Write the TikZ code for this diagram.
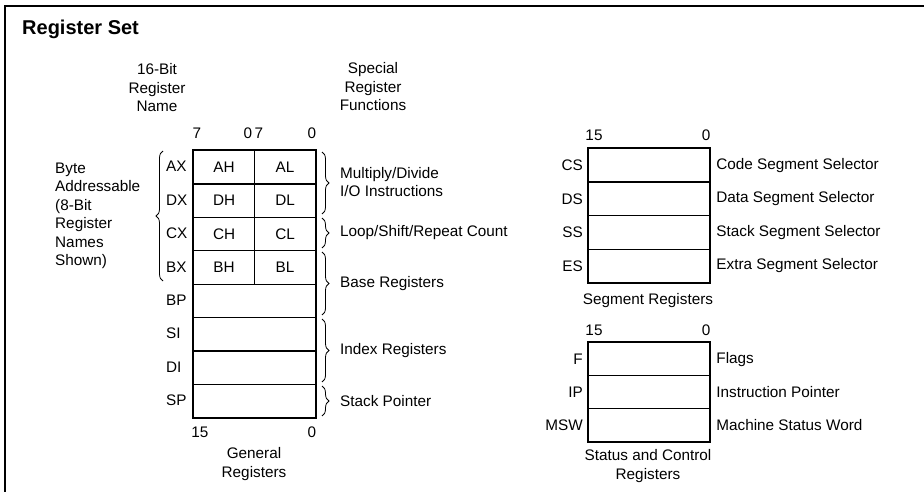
\documentclass[tikz,border=0pt]{standalone}
\usepackage{fontspec}
\setmainfont{Liberation Sans}
\usetikzlibrary{decorations.pathreplacing,calc}
\begin{document}
\begin{tikzpicture}[x=1pt,y=-1pt,
  lbl/.style={font=\fontsize{15.3}{18.5}\selectfont, inner sep=0pt},
  cell/.style={draw, line width=1.2pt, minimum height=#1, inner sep=0pt, anchor=north west, font=\fontsize{15.3}{18.5}\selectfont},
  half/.style={cell=33.4pt, minimum width=61pt},
  full/.style={cell=33.4pt, minimum width=122pt},
  seg/.style={cell=33.5pt, minimum width=121pt},
  stat/.style={cell=33pt, minimum width=121pt},
  frame/.style={draw, line width=2pt},
  brc/.style={draw, line width=0.8pt, decorate, decoration={brace, amplitude=7pt}},
  border/.style={line width=1.5pt}
]
\useasboundingbox (0,0) rectangle (924,492);
% outer frame (top and left only)
\coordinate (ftl) at (5,6);
\coordinate (ftr) at (924,6);
\coordinate (fbl) at (5,492);
\draw[border] (fbl) -- (ftl) -- (ftr);

\node[anchor=base west, inner sep=0pt, font=\fontsize{20}{22}\selectfont\bfseries] (title) at (22,35) {Register Set};

% headers
\node[lbl, align=center] (hname) at (157,88) {16-Bit\\Register\\Name};
\node[lbl, align=center] (hfunc) at (373,87) {Special\\Register\\Functions};

% general registers
\node[half] (AH) at (193,150) {AH};
\node[half] (AL) at (254,150) {AL};
\node[half] (DH) at (193,183.4) {DH};
\node[half] (DL) at (254,183.4) {DL};
\node[half] (CH) at (193,216.8) {CH};
\node[half] (CL) at (254,216.8) {CL};
\node[half] (BH) at (193,250.2) {BH};
\node[half] (BL) at (254,250.2) {BL};
\node[full] (BP) at (193,283.6) {};
\node[full] (SI) at (193,317) {};
\node[full] (DI) at (193,350.4) {};
\node[full] (SP) at (193,383.8) {};
\draw[frame] (AH.north west) rectangle (SP.south east);

% register names
\node[lbl, anchor=west] (nAX) at (166,166.7) {AX};
\node[lbl, anchor=west] (nDX) at (166,200.1) {DX};
\node[lbl, anchor=west] (nCX) at (166,233.5) {CX};
\node[lbl, anchor=west] (nBX) at (166,266.9) {BX};
\node[lbl, anchor=west] (nBP) at (166,300.3) {BP};
\node[lbl, anchor=west] (nSI) at (166,333.7) {SI};
\node[lbl, anchor=west] (nDI) at (166,367.1) {DI};
\node[lbl, anchor=west] (nSP) at (166,400.5) {SP};

% bit numbers
\node[lbl] (b7a) at (197,133) {7};
\node[lbl] (b0a) at (248,133) {0};
\node[lbl] (b7b) at (259,133) {7};
\node[lbl] (b0b) at (312,133) {0};
\node[lbl] (b15g) at (200,432) {15};
\node[lbl] (b0g) at (312,432) {0};
\node[lbl, align=center] (gen) at (254,464) {General\\Registers};

% left brace and text
\coordinate (lb1) at (163,281);
\coordinate (lb2) at (163,151);
\draw[brc] (lb1) -- (lb2);
\node[lbl, align=left, anchor=west] (byte) at (55,216) {Byte\\Addressable\\(8-Bit\\Register\\Names\\Shown)};

% right braces
\coordinate (r1a) at (322,152); \coordinate (r1b) at (322,214);
\coordinate (r2a) at (322,218); \coordinate (r2b) at (322,248);
\coordinate (r3a) at (322,252); \coordinate (r3b) at (322,315);
\coordinate (r4a) at (322,319); \coordinate (r4b) at (322,382);
\coordinate (r5a) at (322,386); \coordinate (r5b) at (322,416);
\draw[brc] (r1a) -- (r1b);
\draw[brc] (r2a) -- (r2b);
\draw[brc] (r3a) -- (r3b);
\draw[brc] (r4a) -- (r4b);
\draw[brc] (r5a) -- (r5b);
\node[lbl, align=left, anchor=west] (fmul) at (340,182) {Multiply/Divide\\I/O Instructions};
\node[lbl, anchor=west] (floop) at (340,233) {Loop/Shift/Repeat Count};
\node[lbl, anchor=west] (fbase) at (340,283.5) {Base Registers};
\node[lbl, anchor=west] (findex) at (340,350.5) {Index Registers};
\node[lbl, anchor=west] (fstack) at (340,401) {Stack Pointer};

% segment registers
\node[seg] (CS) at (588,148) {};
\node[seg] (DS) at (588,181.5) {};
\node[seg] (SS) at (588,215) {};
\node[seg] (ES) at (588,248.5) {};
\draw[frame] (CS.north west) rectangle (ES.south east);
\node[lbl] (s15) at (594,135) {15};
\node[lbl] (s0) at (706,135) {0};
\node[lbl, anchor=east] (nCS) at ($(CS.west)+(-5,0)$) {CS};
\node[lbl, anchor=east] (nDS) at ($(DS.west)+(-5,0)$) {DS};
\node[lbl, anchor=east] (nSS) at ($(SS.west)+(-5,0)$) {SS};
\node[lbl, anchor=east] (nES) at ($(ES.west)+(-5,0)$) {ES};
\node[lbl, anchor=west] (dCS) at ($(CS.east)+(6,0)$) {Code Segment Selector};
\node[lbl, anchor=west] (dDS) at ($(DS.east)+(6,0)$) {Data Segment Selector};
\node[lbl, anchor=west] (dSS) at ($(SS.east)+(6,0)$) {Stack Segment Selector};
\node[lbl, anchor=west] (dES) at ($(ES.east)+(6,0)$) {Extra Segment Selector};
\node[lbl] (segt) at (648,301) {Segment Registers};

% status and control registers
\node[stat] (F) at (588,342) {};
\node[stat] (IP) at (588,375) {};
\node[stat] (MSW) at (588,408) {};
\draw[frame] (F.north west) rectangle (MSW.south east);
\node[lbl] (t15) at (594,330) {15};
\node[lbl] (t0) at (706,330) {0};
\node[lbl, anchor=east] (nF) at ($(F.west)+(-5,0)$) {F};
\node[lbl, anchor=east] (nIP) at ($(IP.west)+(-5,0)$) {IP};
\node[lbl, anchor=east] (nMSW) at ($(MSW.west)+(-5,0)$) {MSW};
\node[lbl, anchor=west] (dF) at ($(F.east)+(6,0)$) {Flags};
\node[lbl, anchor=west] (dIP) at ($(IP.east)+(6,0)$) {Instruction Pointer};
\node[lbl, anchor=west] (dMSW) at ($(MSW.east)+(6,0)$) {Machine Status Word};
\node[lbl, align=center] (statt) at (648,466) {Status and Control\\Registers};
\end{tikzpicture}
\end{document}
